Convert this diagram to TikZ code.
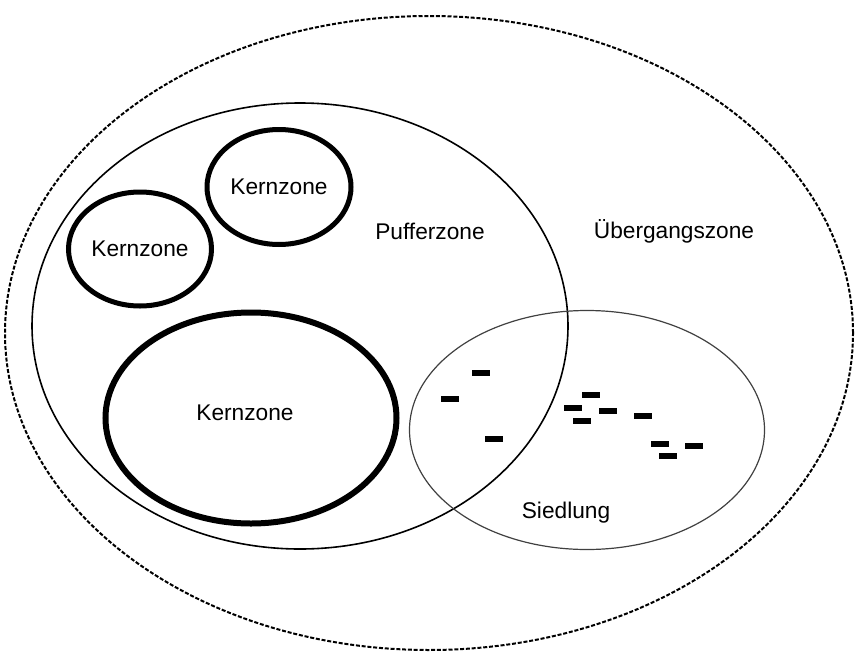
\documentclass[tikz,border=0pt]{standalone}
\usepackage{fontspec}
\setmainfont{Liberation Sans}
\usetikzlibrary{shapes.geometric}
\tikzset{
	zonetext/.style={font=\fontsize{22.7}{27}\selectfont, inner sep=0pt},
	uebergang/.style={ellipse, draw=black, line width=2pt, dash pattern=on 4pt off 1.8pt, inner sep=0pt},
	puffer/.style={ellipse, draw=black, line width=1.6pt, inner sep=0pt},
	siedlung/.style={ellipse, draw=black!75, line width=1.2pt, inner sep=0pt},
	kern/.style={ellipse, draw=black, line width=5pt, inner sep=0pt, font=\fontsize{22.7}{27}\selectfont},
	bigkern/.style={kern, line width=6pt},
	haus/.style={rectangle, fill=black, minimum width=18pt, minimum height=6pt, inner sep=0pt},
}

\begin{document}
\begin{tikzpicture}[x=1pt, y=-1pt]
		\useasboundingbox (0,0) rectangle (856,653);
		\node[uebergang, minimum width=848pt, minimum height=634pt] (ueb) at (429,333) {};
		\node[puffer, minimum width=536pt, minimum height=446pt] (puf) at (300,326) {};
		\node[siedlung, minimum width=355pt, minimum height=239pt] (sied) at (587,430) {};
		\node[kern, minimum width=144pt, minimum height=115pt] (kern1) at (279,187) {Kernzone};
		\node[kern, minimum width=143pt, minimum height=114pt] (kern2) at (140,249) {Kernzone};
		\node[bigkern, minimum width=291pt, minimum height=211pt] (kern3) at (251,418) {};
		\node[zonetext] (kern3text) at (245,413) {Kernzone};
		\node[zonetext] (puftext) at (430,231) {Pufferzone};
		\node[zonetext] (uebtext) at (674,231) {Übergangszone};
		\node[zonetext] (siedtext) at (566,513) {Siedlung};
		% Siedlungshaeuser
		\foreach \x/\y [count=\i] in {481/373, 450/399, 494/439, 591/395, 573/408, 582/421, 608/411, 643/416, 660/444, 668/456, 694/446}
			\node[haus] (haus\i) at (\x,\y) {};
	\end{tikzpicture}
\end{document}
